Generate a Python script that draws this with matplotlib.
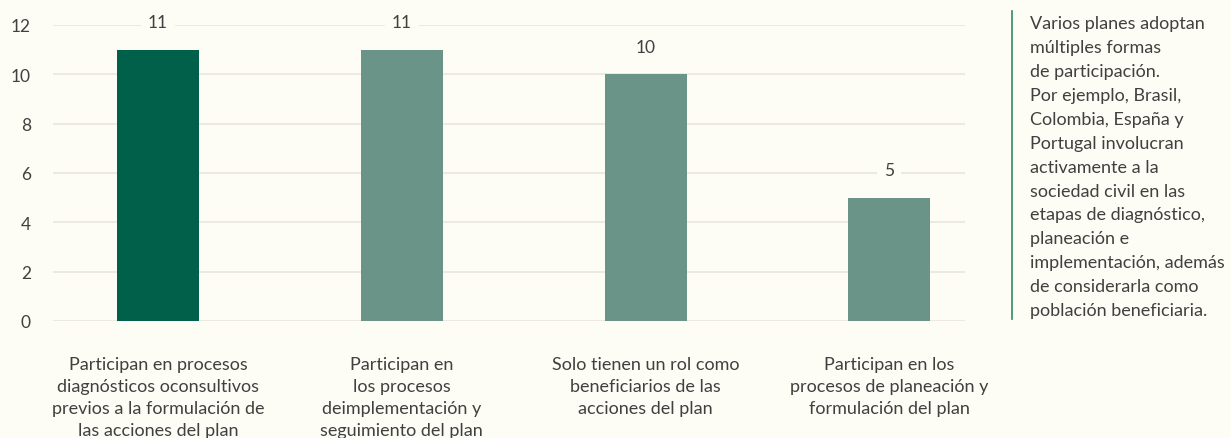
import matplotlib
matplotlib.use("Agg")
import matplotlib.pyplot as plt

categories = [
    "Participan en procesos\ndiagnósticos oconsultivos\nprevios a la formulación de\nlas acciones del plan",
    "Participan en\nlos procesos\ndeimplementación y\nseguimiento del plan",
    "Solo tienen un rol como\nbeneficiarios de las\nacciones del plan",
    "Participan en los\nprocesos de planeación y\nformulación del plan",
]
values = [11, 11, 10, 5]
yticks = [0, 2, 4, 6, 8, 10, 12]
note = ("Varios planes adoptan\nmúltiples formas\nde participación.\nPor ejemplo, Brasil,\n"
        "Colombia, España y\nPortugal involucran\nactivamente a la\nsociedad civil en las\n"
        "etapas de diagnóstico,\nplaneación e\nimplementación, además\nde considerarla como\n"
        "población beneficiaria.")

bg = "#fdfcf5"
colors = ["#00604a", "#6b9488", "#6b9488", "#6b9488"]
txt = "#404040"

plt.rcParams['font.family'] = ['Lato', 'DejaVu Sans']

W, H = 1231, 439
fig = plt.figure(figsize=(W/100, H/100), dpi=100, facecolor=bg)
ax = fig.add_axes([53/W, 1-322/H, (965-53)/W, (322-26)/H], facecolor=bg)

x = list(range(len(values)))
ax.bar(x, values, width=0.336, color=colors, zorder=2)
ax.set_xlim(-0.431, 3.31)
ax.set_ylim(0, 12)
ax.set_yticks(yticks)
ax.set_yticklabels([str(t) for t in yticks], fontsize=12.5, color=txt)
ax.tick_params(axis='y', length=0, pad=16)
ax.tick_params(axis='x', length=0)
ax.set_xticks([])
ax.grid(axis='y', color="#e8e6df", linewidth=1.2, zorder=0)
for s in ax.spines.values():
    s.set_visible(False)

for xi, v in zip(x, values):
    ax.annotate(str(v), (xi, v), xytext=(0, 20), textcoords='offset points',
                ha='center', va='center', fontsize=12.5, color=txt,
                bbox=dict(boxstyle='square,pad=0.4', fc=bg, ec='none'), zorder=3)

for xi, c in zip(x, categories):
    ax.annotate(c, (xi, 0), xytext=(0, -25), textcoords='offset points',
                ha='center', va='top', fontsize=13, color=txt, linespacing=1.47,
                annotation_clip=False)

fig.add_artist(plt.Line2D([1012/W, 1012/W], [1-12/H, 1-320/H], color="#2e8a6c", linewidth=1.2))
fig.text(1030/W, 1-16/H, note, ha='left', va='top', fontsize=13, color=txt,
         linespacing=1.61)

fig.savefig("out.png", dpi=100, facecolor=bg)
